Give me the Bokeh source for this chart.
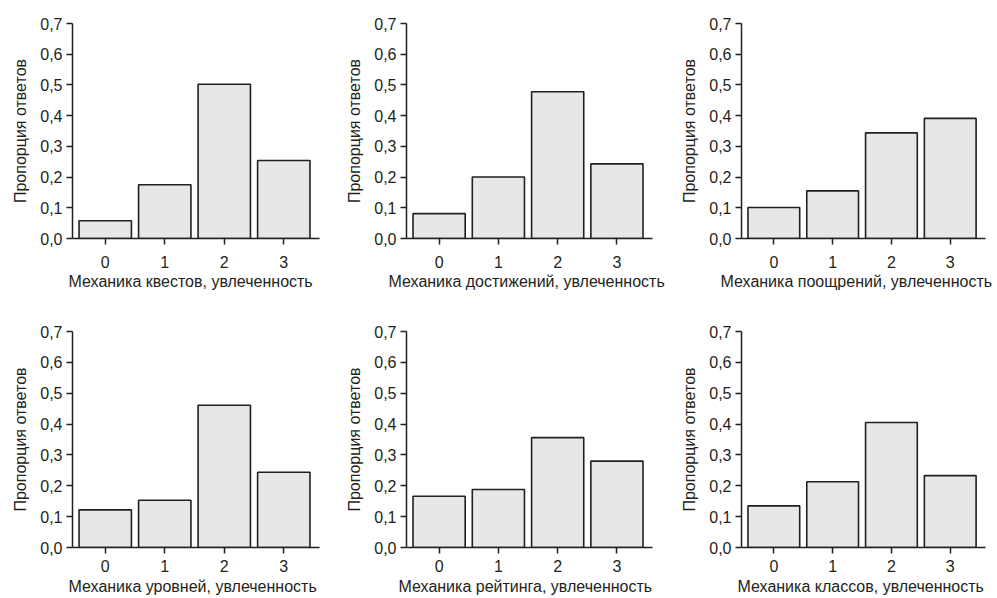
from bokeh.plotting import figure
from bokeh.layouts import column, row
from bokeh.models import FixedTicker, CustomJSTickFormatter, Title, Range1d
from bokeh.embed import file_html
from bokeh.resources import INLINE

# ---- data ----
categories = [0, 1, 2, 3]
y_ticks = [0.0, 0.1, 0.2, 0.3, 0.4, 0.5, 0.6, 0.7]
y_label = "Пропорция ответов"

quests = [0.058, 0.175, 0.502, 0.254]
achievements = [0.081, 0.200, 0.478, 0.243]
rewards = [0.101, 0.155, 0.344, 0.391]
levels = [0.122, 0.153, 0.461, 0.244]
rating = [0.166, 0.188, 0.356, 0.280]
classes = [0.135, 0.213, 0.405, 0.233]

x_labels = [
    "Механика квестов, увлеченность",
    "Механика достижений, увлеченность",
    "Механика поощрений, увлеченность",
    "Механика уровней, увлеченность",
    "Механика рейтинга, увлеченность",
    "Механика классов, увлеченность",
]
series = [quests, achievements, rewards, levels, rating, classes]

# ---- style ----
FONT = "Liberation Sans"
INK = "#231f20"
FILL = "#e6e7e8"

# per-column: (width, border_left, border_right)
cols = [(338, 72, 19), (334, 68, 20), (325, 69, 12)]
# per-row: (height, border_top, border_bottom, tick_standoff, title_standoff)
rows_cfg = [(300, 23, 62, 11, 0), (298, 31, 51, 6, 2)]
label_offset = [-4, -18, -21, -4, -8, -4]


def make_panel(i):
    r, c = divmod(i, 3)
    w, bl, br = cols[c]
    h, bt, bb, ts, tsd = rows_cfg[r]
    p = figure(width=w, height=h, output_backend="svg", toolbar_location=None,
               x_range=Range1d(-0.55, 3.6), y_range=Range1d(0, 0.7),
               min_border_left=bl, min_border_right=br,
               min_border_top=bt, min_border_bottom=bb,
               outline_line_color=None, background_fill_color="white",
               border_fill_color="white")
    p.xgrid.visible = False
    p.ygrid.visible = False
    p.vbar(x=categories, top=series[i], width=0.88, bottom=0,
           fill_color=FILL, line_color=INK, line_width=1.6)

    for ax in (p.xaxis, p.yaxis):
        ax.axis_line_color = INK
        ax.axis_line_width = 1.5
        ax.major_tick_line_color = INK
        ax.major_tick_line_width = 1.5
        ax.major_tick_in = 0
        ax.major_tick_out = 6
        ax.minor_tick_line_color = None
        ax.major_label_text_font = FONT
        ax.major_label_text_font_size = "16px"
        ax.major_label_text_color = INK

    p.xaxis.ticker = FixedTicker(ticks=categories)
    p.xaxis.major_label_standoff = ts
    p.yaxis.ticker = FixedTicker(ticks=y_ticks)
    p.yaxis.formatter = CustomJSTickFormatter(
        code="return tick.toFixed(1).replace('.', ',');")
    p.yaxis.major_label_standoff = 4
    p.yaxis.axis_label = y_label
    p.yaxis.axis_label_text_font = FONT
    p.yaxis.axis_label_text_font_size = "16px"
    p.yaxis.axis_label_text_font_style = "normal"
    p.yaxis.axis_label_text_color = INK
    p.yaxis.axis_label_standoff = 8

    p.add_layout(Title(text=x_labels[i], align="left", offset=label_offset[i],
                       standoff=tsd, text_font=FONT, text_font_size="16px",
                       text_font_style="normal", text_color=INK), "below")
    return p


panels = [make_panel(i) for i in range(6)]
layout = column(row(*panels[:3]), row(*panels[3:]))

open("out.html", "w").write(file_html(layout, INLINE))
